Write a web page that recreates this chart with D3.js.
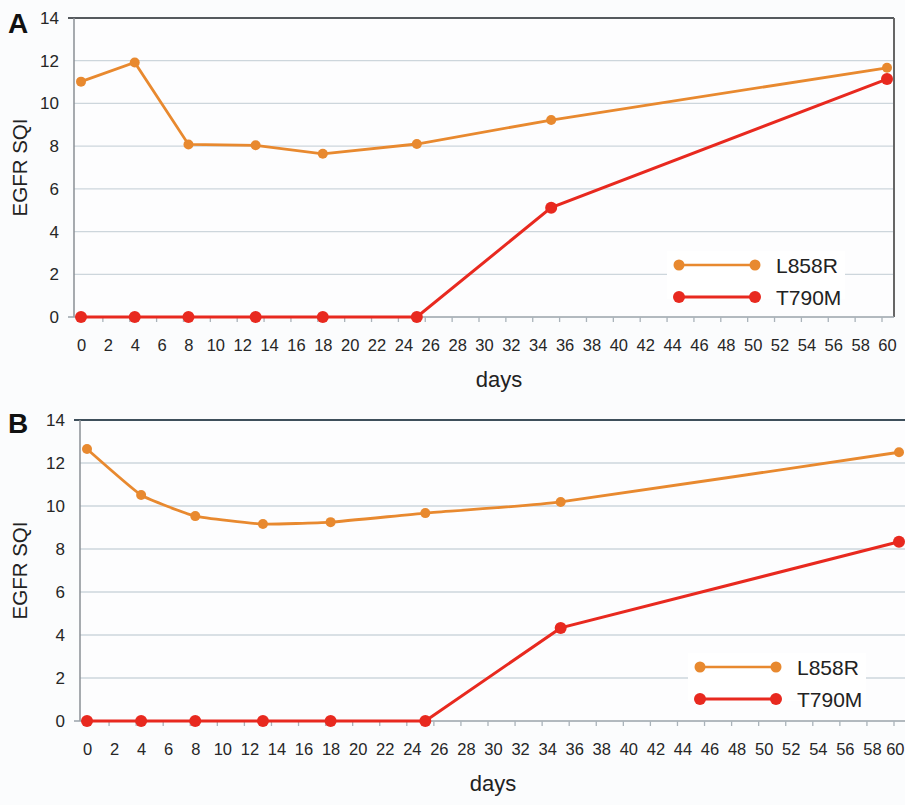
<!DOCTYPE html>
<html lang="en">
<head>
<meta charset="utf-8" />
<title>EGFR SQI over days</title>
<script src="https://d3js.org/d3.v7.min.js"></script>
<style>
    body { margin: 0; background: #fbfcfd; }
    svg { display: block; font-family: "Liberation Sans", Arial, sans-serif; }
    .tick text { fill: #262626; }
</style>
</head>
<body>
<div id="chart"></div>
<script>
// sample days and values
var daysA = [0, 4, 8, 13, 18, 25, 35, 60];
var l858rA = [11.02, 11.92, 8.08, 8.04, 7.64, 8.1, 9.22, 11.67];
var t790mA = [0, 0, 0, 0, 0, 0, 5.12, 11.14];

var daysB = [0, 4, 8, 13, 18, 25, 35, 60];
var l858rB = [12.65, 10.51, 9.53, 9.16, 9.25, 9.67, 10.19, 12.5];
var t790mB = [0, 0, 0, 0, 0, 0, 4.33, 8.34];

var xTicks = d3.range(0, 61, 2);
var yTicks = [0, 2, 4, 6, 8, 10, 12, 14];
var seriesNames = ['L858R', 'T790M'];
var seriesColors = ['#e8892f', '#e8291f'];

var svg = d3.select('#chart').append('svg')
    .attr('width', 905).attr('height', 805);

function panel(cfg) {
    var x = d3.scaleLinear().domain([0, 60]).range([cfg.x0, cfg.x60]);
    var y = d3.scaleLinear().domain([0, 14]).range([cfg.yBottom, cfg.yTop]);
    var g = svg.append('g');

    g.append('rect')
        .attr('x', cfg.left).attr('y', cfg.yTop)
        .attr('width', cfg.right - cfg.left).attr('height', cfg.yBottom - cfg.yTop)
        .attr('fill', '#fdfdfe');

    // gridlines
    g.selectAll('.grid').data(yTicks.slice(1, -1)).enter().append('line')
        .attr('x1', cfg.left).attr('x2', cfg.right)
        .attr('y1', function(d) { return y(d); })
        .attr('y2', function(d) { return y(d); })
        .attr('stroke', '#cdd6dc').attr('stroke-width', 1.3);

    // frame
    g.append('line').attr('x1', cfg.left - 6).attr('x2', cfg.right)
        .attr('y1', cfg.yTop).attr('y2', cfg.yTop)
        .attr('stroke', cfg.topColor).attr('stroke-width', 2);
    g.append('line').attr('x1', cfg.right).attr('x2', cfg.right)
        .attr('y1', cfg.yTop).attr('y2', cfg.yBottom)
        .attr('stroke', '#666').attr('stroke-width', 2);
    g.append('line').attr('x1', cfg.left).attr('x2', cfg.left)
        .attr('y1', cfg.yTop).attr('y2', cfg.yBottom)
        .attr('stroke', '#8a8f94').attr('stroke-width', 1.5);
    g.append('line').attr('x1', cfg.left - 6).attr('x2', cfg.right)
        .attr('y1', cfg.yBottom).attr('y2', cfg.yBottom)
        .attr('stroke', '#9aa3aa').attr('stroke-width', 1.5);

    // y axis labels
    var yAxis = d3.axisLeft(y).tickValues(yTicks).tickSize(0).tickPadding(15);
    g.append('g').attr('transform', 'translate(' + cfg.left + ',0)')
        .call(yAxis)
        .call(function(s) { s.select('.domain').remove(); })
        .selectAll('text').attr('font-size', 17);

    // x axis: small ticks sit just left of each label
    g.selectAll('.xt').data(xTicks.slice(1)).enter().append('line')
        .attr('x1', function(d) { return x(d) - 5; })
        .attr('x2', function(d) { return x(d) - 5; })
        .attr('y1', cfg.yBottom).attr('y2', cfg.yBottom + 5)
        .attr('stroke', '#aab3ba').attr('stroke-width', 1.3);
    var xAxis = d3.axisBottom(x).tickValues(xTicks).tickSize(0).tickPadding(22);
    var xg = g.append('g').attr('transform', 'translate(0,' + cfg.yBottom + ')')
        .call(xAxis)
        .call(function(s) { s.select('.domain').remove(); });
    xg.selectAll('text').attr('font-size', 16.5);
    if (cfg.clipLast) {
        xg.selectAll('text').filter(function(d) { return d === 60; })
            .attr('text-anchor', 'end').attr('x', 904 - cfg.x60);
    }

    g.append('text').attr('x', cfg.daysX).attr('y', cfg.yBottom + 70)
        .attr('text-anchor', 'middle').attr('font-size', 22).attr('fill', '#222')
        .text('days');
    g.append('text')
        .attr('transform', 'translate(' + 27 + ',' + ((cfg.yTop + cfg.yBottom) / 2) + ') rotate(-90)')
        .attr('text-anchor', 'middle').attr('font-size', 20.5).attr('fill', '#222')
        .text('EGFR SQI');
    g.append('text').attr('x', 8).attr('y', cfg.letterY)
        .attr('font-size', 28).attr('font-weight', 'bold').attr('fill', '#111')
        .text(cfg.letter);

    // legend background hides gridline
    g.append('rect').attr('x', cfg.legX - 12).attr('y', cfg.legY - 14)
        .attr('width', cfg.legW).attr('height', 48).attr('fill', '#ffffff');

    [cfg.l858r, cfg.t790m].forEach(function(vals, i) {
        var pts = cfg.days.map(function(d, j) { return [d, vals[j]]; });
        var line = d3.line()
            .x(function(p) { return x(p[0]); })
            .y(function(p) { return y(p[1]); })
            .curve(cfg.curves[i]);
        g.append('path').datum(pts).attr('d', line)
            .attr('fill', 'none').attr('stroke', seriesColors[i])
            .attr('stroke-width', i === 0 ? 2.8 : 3);
        g.selectAll('.pt' + i).data(pts).enter().append('circle')
            .attr('cx', function(p) { return x(p[0]); })
            .attr('cy', function(p) { return y(p[1]); })
            .attr('r', i === 0 ? 5 : 6)
            .attr('fill', seriesColors[i]);

        var ly = cfg.legY + i * 32;
        g.append('line').attr('x1', cfg.legX).attr('x2', cfg.legX + 76)
            .attr('y1', ly).attr('y2', ly)
            .attr('stroke', seriesColors[i]).attr('stroke-width', i === 0 ? 2.5 : 3);
        g.selectAll('.lg' + i).data([cfg.legX, cfg.legX + 76]).enter().append('circle')
            .attr('cx', function(d) { return d; }).attr('cy', ly)
            .attr('r', i === 0 ? 5.5 : 6).attr('fill', seriesColors[i]);
        g.append('text').attr('x', cfg.legX + 97).attr('y', ly + 7.5)
            .attr('font-size', 21).attr('fill', '#222')
            .text(seriesNames[i]);
    });
}

panel({
    letter: 'A', letterY: 33, days: daysA, l858r: l858rA, t790m: t790mA,
    left: 74, right: 894, yTop: 18, yBottom: 317, x0: 81, x60: 887,
    topColor: '#555a5e', daysX: 499, legX: 679, legY: 265, legW: 178,
    curves: [d3.curveLinear, d3.curveLinear], clipLast: false
});
panel({
    letter: 'B', letterY: 433, days: daysB, l858r: l858rB, t790m: t790mB,
    left: 80, right: 906, yTop: 420, yBottom: 721, x0: 87, x60: 899,
    topColor: '#3e4f5b', daysX: 493, legX: 700, legY: 667, legW: 178,
    curves: [d3.curveCardinal.tension(0.6), d3.curveLinear], clipLast: true
});
</script>
</body>
</html>
